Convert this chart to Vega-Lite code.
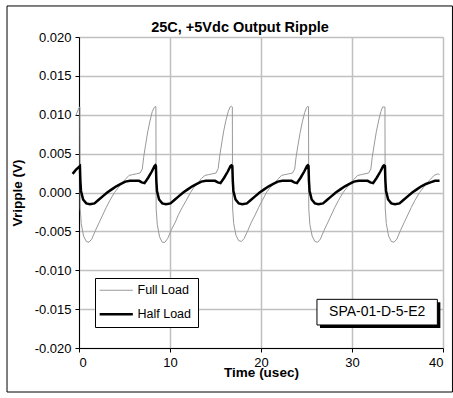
{
  "$schema": "https://vega.github.io/schema/vega-lite/v6.json",
  "width": 364,
  "height": 311,
  "autosize": {"type": "none"},
  "padding": {"left": 79, "top": 37, "right": 10, "bottom": 50},
  "background": "white",
  "title": {
    "text": "25C, +5Vdc Output Ripple",
    "font": "Liberation Sans",
    "fontSize": 14.5,
    "fontWeight": "bold",
    "color": "black",
    "anchor": "middle",
    "frame": "group",
    "dx": -21,
    "baseline": "alphabetic",
    "offset": -41.5
  },
  "datasets": {
    "full": [
      {"t": -0.35, "v": 0.0099}, {"t": 0.0, "v": 0.0109},
      {"t": 0.10, "v": 0.0110}, {"t": 0.13, "v": -0.0020}, {"t": 0.25, "v": -0.0040}, {"t": 0.50, "v": -0.0056}, {"t": 0.80, "v": -0.0063}, {"t": 1.10, "v": -0.0064}, {"t": 1.40, "v": -0.0060}, {"t": 1.80, "v": -0.0049}, {"t": 2.20, "v": -0.0039}, {"t": 2.60, "v": -0.0029}, {"t": 3.00, "v": -0.0019}, {"t": 3.40, "v": -0.0010}, {"t": 3.90, "v": 0.0000}, {"t": 4.30, "v": 0.0006}, {"t": 4.70, "v": 0.0012}, {"t": 5.10, "v": 0.0017}, {"t": 5.50, "v": 0.0022}, {"t": 5.90, "v": 0.0023}, {"t": 6.30, "v": 0.0024}, {"t": 6.70, "v": 0.0025}, {"t": 6.95, "v": 0.0030}, {"t": 7.10, "v": 0.0045}, {"t": 7.30, "v": 0.0060}, {"t": 7.55, "v": 0.0078}, {"t": 7.80, "v": 0.0092}, {"t": 8.05, "v": 0.0104}, {"t": 8.25, "v": 0.0109}, {"t": 8.40, "v": 0.0111},
      {"t": 8.45, "v": 0.0110}, {"t": 8.48, "v": -0.0021}, {"t": 8.60, "v": -0.0041}, {"t": 8.85, "v": -0.0057}, {"t": 9.15, "v": -0.0064}, {"t": 9.45, "v": -0.0064}, {"t": 9.75, "v": -0.0059}, {"t": 10.15, "v": -0.0048}, {"t": 10.55, "v": -0.0039}, {"t": 10.95, "v": -0.0028}, {"t": 11.35, "v": -0.0019}, {"t": 11.75, "v": -0.0011}, {"t": 12.25, "v": 0.0000}, {"t": 12.65, "v": 0.0007}, {"t": 13.05, "v": 0.0012}, {"t": 13.45, "v": 0.0018}, {"t": 13.85, "v": 0.0022}, {"t": 14.25, "v": 0.0023}, {"t": 14.65, "v": 0.0024}, {"t": 15.05, "v": 0.0025}, {"t": 15.30, "v": 0.0031}, {"t": 15.45, "v": 0.0046}, {"t": 15.65, "v": 0.0061}, {"t": 15.90, "v": 0.0079}, {"t": 16.15, "v": 0.0093}, {"t": 16.40, "v": 0.0104}, {"t": 16.60, "v": 0.0110}, {"t": 16.75, "v": 0.0111},
      {"t": 16.85, "v": 0.0110}, {"t": 16.88, "v": -0.0020}, {"t": 17.00, "v": -0.0040}, {"t": 17.25, "v": -0.0055}, {"t": 17.55, "v": -0.0062}, {"t": 17.85, "v": -0.0063}, {"t": 18.15, "v": -0.0059}, {"t": 18.55, "v": -0.0049}, {"t": 18.95, "v": -0.0038}, {"t": 19.35, "v": -0.0029}, {"t": 19.75, "v": -0.0019}, {"t": 20.15, "v": -0.0010}, {"t": 20.65, "v": 0.0001}, {"t": 21.05, "v": 0.0007}, {"t": 21.45, "v": 0.0012}, {"t": 21.85, "v": 0.0017}, {"t": 22.25, "v": 0.0022}, {"t": 22.65, "v": 0.0023}, {"t": 23.05, "v": 0.0024}, {"t": 23.45, "v": 0.0025}, {"t": 23.70, "v": 0.0030}, {"t": 23.85, "v": 0.0045}, {"t": 24.05, "v": 0.0060}, {"t": 24.30, "v": 0.0077}, {"t": 24.55, "v": 0.0091}, {"t": 24.80, "v": 0.0103}, {"t": 25.00, "v": 0.0109}, {"t": 25.15, "v": 0.0111},
      {"t": 25.22, "v": 0.0110}, {"t": 25.25, "v": -0.0021}, {"t": 25.37, "v": -0.0041}, {"t": 25.62, "v": -0.0056}, {"t": 25.92, "v": -0.0063}, {"t": 26.22, "v": -0.0064}, {"t": 26.52, "v": -0.0060}, {"t": 26.92, "v": -0.0049}, {"t": 27.32, "v": -0.0039}, {"t": 27.72, "v": -0.0029}, {"t": 28.12, "v": -0.0019}, {"t": 28.52, "v": -0.0010}, {"t": 29.02, "v": 0.0000}, {"t": 29.42, "v": 0.0006}, {"t": 29.82, "v": 0.0012}, {"t": 30.22, "v": 0.0017}, {"t": 30.62, "v": 0.0022}, {"t": 31.02, "v": 0.0023}, {"t": 31.42, "v": 0.0024}, {"t": 31.82, "v": 0.0025}, {"t": 32.07, "v": 0.0030}, {"t": 32.22, "v": 0.0045}, {"t": 32.42, "v": 0.0060}, {"t": 32.67, "v": 0.0078}, {"t": 32.92, "v": 0.0092}, {"t": 33.17, "v": 0.0104}, {"t": 33.37, "v": 0.0110}, {"t": 33.52, "v": 0.0110},
      {"t": 33.62, "v": 0.0110}, {"t": 33.65, "v": -0.0020}, {"t": 33.77, "v": -0.0040}, {"t": 34.02, "v": -0.0056}, {"t": 34.32, "v": -0.0063}, {"t": 34.62, "v": -0.0064}, {"t": 34.92, "v": -0.0060}, {"t": 35.32, "v": -0.0049}, {"t": 35.72, "v": -0.0039}, {"t": 36.12, "v": -0.0029}, {"t": 36.52, "v": -0.0019}, {"t": 36.92, "v": -0.0010}, {"t": 37.42, "v": 0.0000}, {"t": 37.82, "v": 0.0006}, {"t": 38.22, "v": 0.0012}, {"t": 38.62, "v": 0.0017}, {"t": 39.02, "v": 0.0022}, {"t": 39.42, "v": 0.0024}, {"t": 39.62, "v": 0.0023}
    ],
    "half": [
      {"t": -0.70, "v": 0.0024}, {"t": -0.35, "v": 0.0029}, {"t": 0.0, "v": 0.0033},
      {"t": 0.10, "v": 0.0034}, {"t": 0.15, "v": 0.0015}, {"t": 0.22, "v": 0.0002}, {"t": 0.45, "v": -0.0009}, {"t": 0.80, "v": -0.0014}, {"t": 1.20, "v": -0.0015}, {"t": 1.70, "v": -0.0014}, {"t": 2.10, "v": -0.0010}, {"t": 2.60, "v": -0.0005}, {"t": 3.10, "v": 0.0000}, {"t": 3.60, "v": 0.0004}, {"t": 4.10, "v": 0.0008}, {"t": 4.60, "v": 0.0011}, {"t": 5.10, "v": 0.0014}, {"t": 5.60, "v": 0.0015}, {"t": 6.10, "v": 0.0015}, {"t": 6.60, "v": 0.0015}, {"t": 6.90, "v": 0.0013}, {"t": 7.20, "v": 0.0012}, {"t": 7.60, "v": 0.0019}, {"t": 8.00, "v": 0.0027}, {"t": 8.30, "v": 0.0034}, {"t": 8.40, "v": 0.0035},
      {"t": 8.45, "v": 0.0034}, {"t": 8.50, "v": 0.0015}, {"t": 8.57, "v": 0.0002}, {"t": 8.80, "v": -0.0009}, {"t": 9.15, "v": -0.0014}, {"t": 9.55, "v": -0.0015}, {"t": 10.05, "v": -0.0014}, {"t": 10.45, "v": -0.0010}, {"t": 10.95, "v": -0.0005}, {"t": 11.45, "v": 0.0000}, {"t": 11.95, "v": 0.0004}, {"t": 12.45, "v": 0.0008}, {"t": 12.95, "v": 0.0011}, {"t": 13.45, "v": 0.0014}, {"t": 13.95, "v": 0.0015}, {"t": 14.45, "v": 0.0015}, {"t": 14.95, "v": 0.0015}, {"t": 15.25, "v": 0.0013}, {"t": 15.55, "v": 0.0012}, {"t": 15.95, "v": 0.0019}, {"t": 16.35, "v": 0.0027}, {"t": 16.65, "v": 0.0034}, {"t": 16.75, "v": 0.0035},
      {"t": 16.85, "v": 0.0034}, {"t": 16.90, "v": 0.0015}, {"t": 16.97, "v": 0.0002}, {"t": 17.20, "v": -0.0009}, {"t": 17.55, "v": -0.0014}, {"t": 17.95, "v": -0.0015}, {"t": 18.45, "v": -0.0014}, {"t": 18.85, "v": -0.0010}, {"t": 19.35, "v": -0.0005}, {"t": 19.85, "v": 0.0000}, {"t": 20.35, "v": 0.0004}, {"t": 20.85, "v": 0.0008}, {"t": 21.35, "v": 0.0011}, {"t": 21.85, "v": 0.0014}, {"t": 22.35, "v": 0.0015}, {"t": 22.85, "v": 0.0015}, {"t": 23.35, "v": 0.0015}, {"t": 23.65, "v": 0.0013}, {"t": 23.95, "v": 0.0012}, {"t": 24.35, "v": 0.0019}, {"t": 24.75, "v": 0.0027}, {"t": 25.05, "v": 0.0034}, {"t": 25.15, "v": 0.0035},
      {"t": 25.22, "v": 0.0034}, {"t": 25.27, "v": 0.0015}, {"t": 25.34, "v": 0.0002}, {"t": 25.57, "v": -0.0009}, {"t": 25.92, "v": -0.0014}, {"t": 26.32, "v": -0.0015}, {"t": 26.82, "v": -0.0014}, {"t": 27.22, "v": -0.0010}, {"t": 27.72, "v": -0.0005}, {"t": 28.22, "v": 0.0000}, {"t": 28.72, "v": 0.0004}, {"t": 29.22, "v": 0.0008}, {"t": 29.72, "v": 0.0011}, {"t": 30.22, "v": 0.0014}, {"t": 30.72, "v": 0.0015}, {"t": 31.22, "v": 0.0015}, {"t": 31.72, "v": 0.0015}, {"t": 32.02, "v": 0.0013}, {"t": 32.32, "v": 0.0012}, {"t": 32.72, "v": 0.0019}, {"t": 33.12, "v": 0.0027}, {"t": 33.42, "v": 0.0034}, {"t": 33.52, "v": 0.0035},
      {"t": 33.62, "v": 0.0034}, {"t": 33.67, "v": 0.0015}, {"t": 33.74, "v": 0.0002}, {"t": 33.97, "v": -0.0009}, {"t": 34.32, "v": -0.0014}, {"t": 34.72, "v": -0.0015}, {"t": 35.22, "v": -0.0014}, {"t": 35.62, "v": -0.0010}, {"t": 36.12, "v": -0.0005}, {"t": 36.62, "v": 0.0000}, {"t": 37.12, "v": 0.0004}, {"t": 37.62, "v": 0.0008}, {"t": 38.12, "v": 0.0011}, {"t": 38.62, "v": 0.0013}, {"t": 39.12, "v": 0.0015}, {"t": 39.62, "v": 0.0015}
    ],
    "note": [{"label": "SPA-01-D-5-E2"}]
  },
  "encoding": {
    "x": {
      "type": "quantitative",
      "scale": {"domain": [0, 40], "nice": false, "zero": false},
      "axis": {
        "title": "Time (usec)", "values": [0, 10, 20, 30, 40], "grid": true,
        "titlePadding": -4, "labelPadding": 4, "tickSize": 4
      }
    },
    "y": {
      "type": "quantitative",
      "scale": {"domain": [-0.02, 0.02], "nice": false, "zero": false},
      "axis": {
        "title": "Vripple (V)",
        "values": [-0.02, -0.015, -0.01, -0.005, 0, 0.005, 0.01, 0.015, 0.02],
        "tickCount": 9, "labelOverlap": false,
        "labelExpr": "replace(format(datum.value, '.3f'), '\u2212', '-')",
        "grid": true, "titlePadding": 10, "labelPadding": 4, "tickSize": 4
      }
    }
  },
  "layer": [
    {
      "data": {"name": "full"},
      "mark": {"type": "line", "strokeWidth": 1, "interpolate": "linear"},
      "encoding": {
        "x": {"field": "t", "type": "quantitative"},
        "y": {"field": "v", "type": "quantitative"},
        "color": {
          "datum": "Full Load", "type": "nominal",
          "scale": {"domain": ["Full Load", "Half Load"], "range": ["#999999", "#000000"]},
          "legend": {
            "title": null, "orient": "none", "legendX": 16, "legendY": 241,
            "fillColor": "white", "strokeColor": "black", "padding": 6,
            "symbolType": "stroke", "symbolSize": 1100, "symbolOffset": 9,
            "labelFontSize": 12.5,
            "labelFont": "Liberation Sans", "labelColor": "black", "labelOffset": 15,
            "rowPadding": 11,
            "encode": {"symbols": {"update": {"strokeWidth": {"signal": "datum.value == 'Half Load' ? 2.5 : 1"}}}}
          }
        }
      }
    },
    {
      "data": {"name": "half"},
      "mark": {"type": "line", "strokeWidth": 2.5, "interpolate": "linear"},
      "encoding": {
        "x": {"field": "t", "type": "quantitative"},
        "y": {"field": "v", "type": "quantitative"},
        "color": {"datum": "Half Load", "type": "nominal"}
      }
    },
    {
      "data": {"name": "note"},
      "mark": {"type": "rect", "fill": "black"},
      "encoding": {
        "x": {"datum": 26.48, "type": "quantitative"},
        "x2": {"datum": 39.71},
        "y": {"datum": -0.01412, "type": "quantitative"},
        "y2": {"datum": -0.01743}
      }
    },
    {
      "data": {"name": "note"},
      "mark": {"type": "rect", "fill": "white", "stroke": "black", "strokeWidth": 1},
      "encoding": {
        "x": {"datum": 26.15, "type": "quantitative"},
        "x2": {"datum": 39.38},
        "y": {"datum": -0.01374, "type": "quantitative"},
        "y2": {"datum": -0.01704}
      }
    },
    {
      "data": {"name": "note"},
      "mark": {"type": "text", "font": "Liberation Sans", "fontSize": 14, "color": "black", "align": "center", "baseline": "middle"},
      "encoding": {
        "x": {"datum": 32.77, "type": "quantitative"},
        "y": {"datum": -0.01537, "type": "quantitative"},
        "text": {"field": "label"}
      }
    },
    {
      "data": {"name": "note"},
      "mark": {"type": "rect", "fill": "white", "fillOpacity": 0, "stroke": "black", "strokeWidth": 1},
      "encoding": {
        "x": {"datum": -7.91, "type": "quantitative"},
        "x2": {"datum": 41.04},
        "y": {"datum": 0.02399, "type": "quantitative"},
        "y2": {"datum": -0.02566}
      }
    }
  ],
  "config": {
    "view": {"stroke": null},
    "axis": {
      "labelFont": "Liberation Sans", "labelFontSize": 13, "labelColor": "black",
      "titleFont": "Liberation Sans", "titleFontSize": 13.5, "titleFontWeight": "bold", "titleColor": "black",
      "domainColor": "black", "domainWidth": 1, "tickColor": "black", "tickWidth": 1,
      "gridColor": "#c0c0c0", "gridWidth": 1.5
    }
  }
}
